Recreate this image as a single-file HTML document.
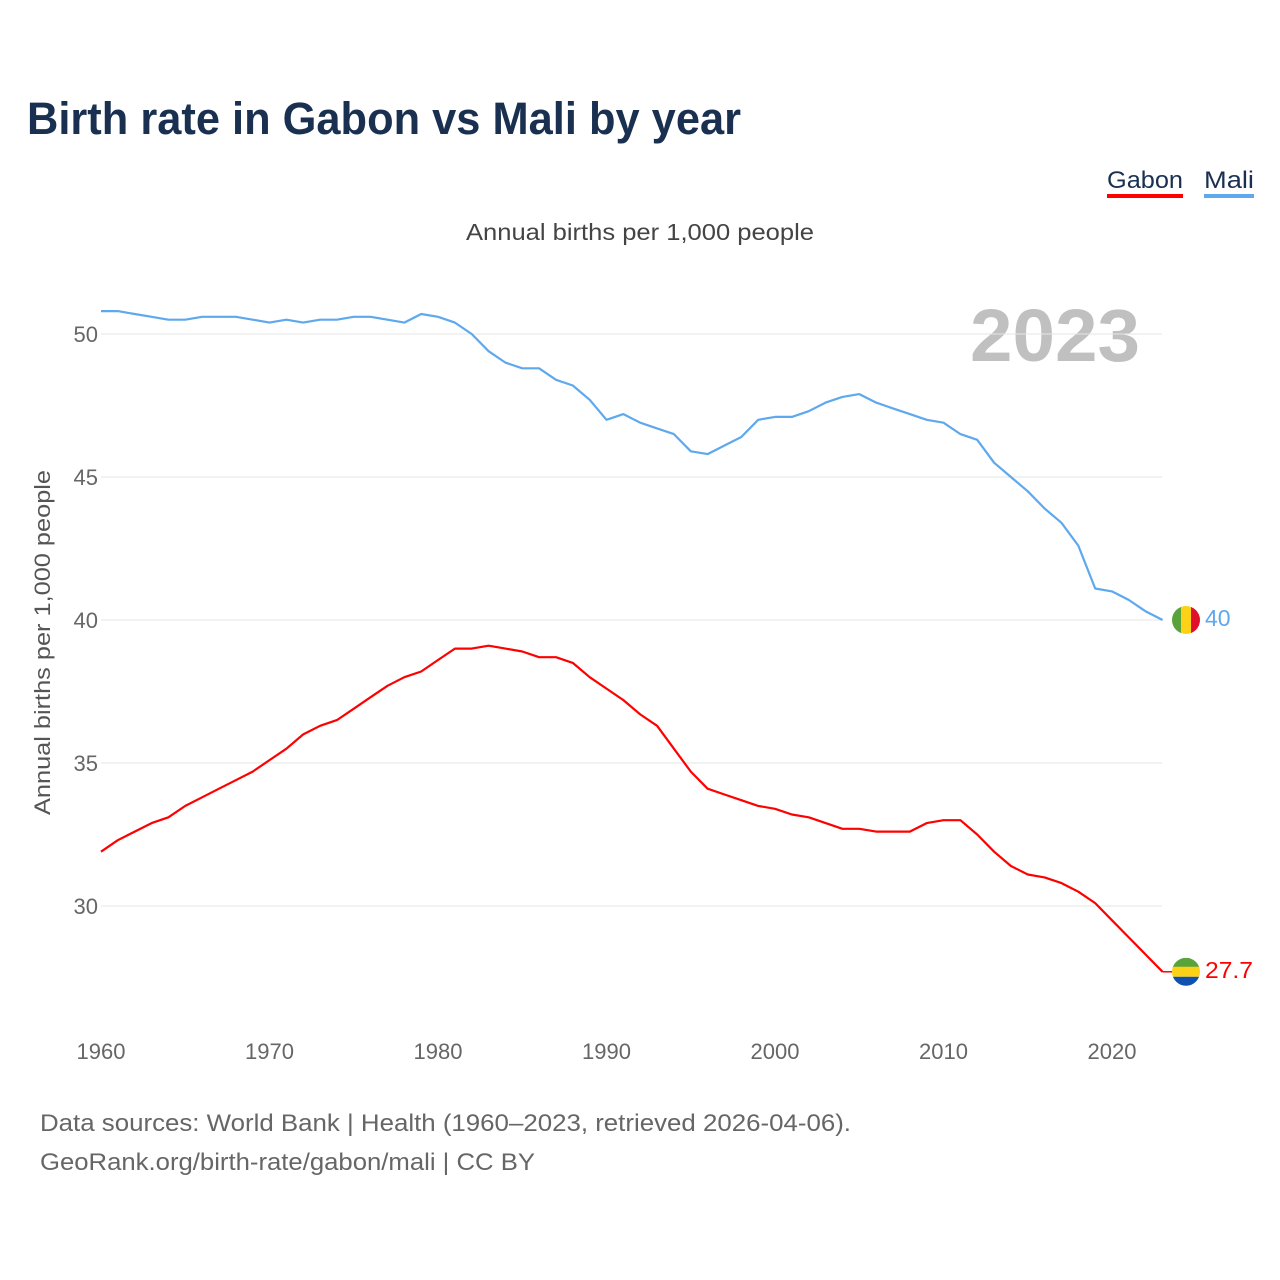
<!DOCTYPE html>
<html><head><meta charset="utf-8">
<style>
body{margin:0;background:#fff;font-family:"Liberation Sans",sans-serif;}
#wrap{position:relative;width:1280px;height:1280px;overflow:hidden;}
</style></head>
<body>
<div id="wrap">
<svg id="chart" width="1280" height="1280" style="position:absolute;left:0;top:0">
<text x="27" y="134" font-size="45" font-weight="bold" fill="#1a3050" textLength="714" lengthAdjust="spacingAndGlyphs">Birth rate in Gabon vs Mali by year</text>
<g><text x="1107" y="188" font-size="24" fill="#1a3050" textLength="76" lengthAdjust="spacingAndGlyphs">Gabon</text><rect x="1107" y="194" width="76" height="4" fill="#ff0000"/></g>
<g><text x="1204" y="188" font-size="24" fill="#1a3050" textLength="50" lengthAdjust="spacingAndGlyphs">Mali</text><rect x="1204" y="194" width="50" height="4" fill="#5ea8ee"/></g>
<text x="466" y="240" font-size="23" fill="#444" textLength="348" lengthAdjust="spacingAndGlyphs">Annual births per 1,000 people</text>
<text x="970" y="361" font-size="74" font-weight="bold" fill="#c0c0c0" textLength="170" lengthAdjust="spacingAndGlyphs">2023</text>
<text transform="translate(50,815) rotate(-90)" font-size="22" fill="#555" textLength="345" lengthAdjust="spacingAndGlyphs">Annual births per 1,000 people</text>
<g id="grid"></g><g id="lines"></g><g id="ends"></g>
<text x="40" y="1131" font-size="24" fill="#666" textLength="811" lengthAdjust="spacingAndGlyphs">Data sources: World Bank | Health (1960–2023, retrieved 2026-04-06).</text>
<text x="40" y="1170" font-size="24" fill="#666" textLength="495" lengthAdjust="spacingAndGlyphs">GeoRank.org/birth-rate/gabon/mali | CC BY</text>
</svg>
</div>
<script>
const years=[];for(let y=1960;y<=2023;y++)years.push(y);
const mali=[50.8,50.8,50.7,50.6,50.5,50.5,50.6,50.6,50.6,50.5,50.4,50.5,50.4,50.5,50.5,50.6,50.6,50.5,50.4,50.7,50.6,50.4,50.0,49.4,49.0,48.8,48.8,48.4,48.2,47.7,47.0,47.2,46.9,46.7,46.5,45.9,45.8,46.1,46.4,47.0,47.1,47.1,47.3,47.6,47.8,47.9,47.6,47.4,47.2,47.0,46.9,46.5,46.3,45.5,45.0,44.5,43.9,43.4,42.6,41.1,41.0,40.7,40.3,40.0];
const gabon=[31.9,32.3,32.6,32.9,33.1,33.5,33.8,34.1,34.4,34.7,35.1,35.5,36.0,36.3,36.5,36.9,37.3,37.7,38.0,38.2,38.6,39.0,39.0,39.1,39.0,38.9,38.7,38.7,38.5,38.0,37.6,37.2,36.7,36.3,35.5,34.7,34.1,33.9,33.7,33.5,33.4,33.2,33.1,32.9,32.7,32.7,32.6,32.6,32.6,32.9,33.0,33.0,32.5,31.9,31.4,31.1,31.0,30.8,30.5,30.1,29.5,28.9,28.3,27.7];
const yTicks=[30,35,40,45,50];
const xTicks=[1960,1970,1980,1990,2000,2010,2020];
const NS="http://www.w3.org/2000/svg";
const X=y=>101+(y-1960)*(1011/60);
const Y=v=>906-(v-30)*28.6;
function mk(tag,attrs,parent,txt){const e=document.createElementNS(NS,tag);for(const k in attrs)e.setAttribute(k,attrs[k]);if(txt!=null)e.textContent=txt;parent.appendChild(e);return e;}
const grid=document.getElementById('grid');
yTicks.forEach(t=>{
 const l=mk('line',{x1:101,x2:1162,y1:Y(t),y2:Y(t),stroke:'#e6e6e6','stroke-width':1},grid);
 
 
 const tx=mk('text',{x:98,y:Y(t)+8,'text-anchor':'end','font-size':22,fill:'#666'},grid,String(t));
 
 
});
xTicks.forEach(t=>{
 const tx=mk('text',{x:X(t),y:1059,'text-anchor':'middle','font-size':22,fill:'#666'},grid,String(t));
 
 
});
const lines=document.getElementById('lines');
function series(vals,col,name){
 const d=vals.map((v,i)=>(i?'L':'M')+X(years[i]).toFixed(1)+','+Y(v).toFixed(1)).join('');
 const p=mk('path',{d:d,fill:'none',stroke:col,'stroke-width':2.2,'stroke-linejoin':'round'},lines);
 
 
}
series(mali,'#5ea8ee','line-mali');
series(gabon,'#ff0000','line-gabon');
const ends=document.getElementById('ends');
const cx=1186;
const ym=Y(mali[mali.length-1]);
const gm=mk('g',{},ends);


const cpm=mk('clipPath',{id:'cm'},gm);mk('circle',{cx:cx,cy:ym,r:14},cpm);
mk('rect',{x:cx-14,y:ym-14,width:10,height:28,fill:'#5aa33a','clip-path':'url(#cm)'},gm);
mk('rect',{x:cx-5,y:ym-14,width:10,height:28,fill:'#fcd116','clip-path':'url(#cm)'},gm);
mk('rect',{x:cx+5,y:ym-14,width:10,height:28,fill:'#e0102a','clip-path':'url(#cm)'},gm);
const lm=mk('text',{x:1205,y:ym+6,'font-size':23,fill:'#5ea8ee'},ends,String(mali[mali.length-1]));


const yg=Y(gabon[gabon.length-1]);
mk('line',{x1:X(2023),x2:cx-14,y1:yg,y2:yg,stroke:'#ff0000','stroke-width':1.5},ends);
const gg=mk('g',{},ends);


const cp=mk('clipPath',{id:'cg'},gg);mk('circle',{cx:cx,cy:yg,r:14},cp);
mk('rect',{x:cx-14,y:yg-14,width:28,height:10,fill:'#5aa33a','clip-path':'url(#cg)'},gg);
mk('rect',{x:cx-14,y:yg-5,width:28,height:10,fill:'#fcd116','clip-path':'url(#cg)'},gg);
mk('rect',{x:cx-14,y:yg+5,width:28,height:10,fill:'#1050b0','clip-path':'url(#cg)'},gg);
const lg=mk('text',{x:1205,y:yg+6,'font-size':23,fill:'#ff0000',textLength:48,lengthAdjust:'spacingAndGlyphs'},ends,String(gabon[gabon.length-1]));


</script>
</body></html>
